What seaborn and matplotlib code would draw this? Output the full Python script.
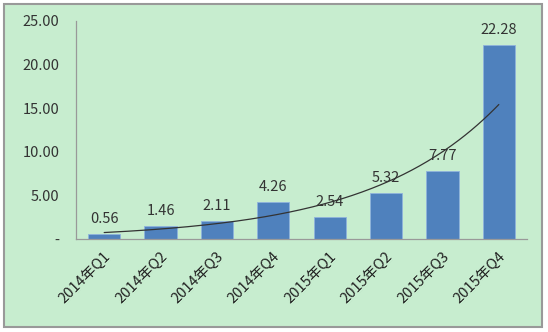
import numpy as np
import pandas as pd
import matplotlib
matplotlib.use("Agg")
import matplotlib.pyplot as plt
import seaborn as sns
from matplotlib.patches import Rectangle

categories = ["2014年Q1", "2014年Q2", "2014年Q3", "2014年Q4",
              "2015年Q1", "2015年Q2", "2015年Q3", "2015年Q4"]
values = [0.56, 1.46, 2.11, 4.26, 2.54, 5.32, 7.77, 22.28]
yticks = [0, 5, 10, 15, 20, 25]
ytick_labels = ["-", "5.00", "10.00", "15.00", "20.00", "25.00"]

sns.set_theme(style="white")
plt.rcParams['font.family'] = ['Noto Sans CJK SC', 'DejaVu Sans']

bg = "#C7EDCF"
fig = plt.figure(figsize=(5.48, 3.32), dpi=100)
fig.patch.set_facecolor("white")
fig.patches.append(Rectangle((4/548, 5/332), 538/548, 323/332, transform=fig.transFigure,
                             facecolor=bg, edgecolor="#999999", linewidth=1.5, zorder=-1))
ax = fig.add_axes([76/548, 1 - 239/332, 451/548, (239 - 21)/332])
ax.set_facecolor("none")

df = pd.DataFrame({"cat": categories, "val": values})
sns.barplot(data=df, x="cat", y="val", color="#4F81BD", width=0.57,
            edgecolor="#8FB3DC", linewidth=0.6, ax=ax, saturation=1)

# exponential trendline
x = np.arange(1, len(values) + 1)
b, a = np.polyfit(x, np.log(values), 1)
xs = np.linspace(1, len(values), 200)
ax.plot(xs - 1, np.exp(a + b * xs), color="#333333", linewidth=0.9, zorder=5)

for i, v in enumerate(values):
    ax.text(i, v + 0.9, f"{v:.2f}", ha="center", va="bottom", fontsize=10.5, color="#333333")

ax.set_xlim(-0.5, 7.5)
ax.set_ylim(0, 25)
ax.set_yticks(yticks)
ax.set_yticklabels(ytick_labels, fontsize=10.5, color="#333333")
ax.set_xticks(range(len(categories)))
ax.set_xticklabels(categories, rotation=45, ha="right", rotation_mode="anchor",
                   fontsize=10.5, color="#222222")
ax.tick_params(axis="y", length=0, pad=12)
ax.tick_params(axis="x", length=0, pad=8)
ax.set_xlabel("")
ax.set_ylabel("")
for s in ["top", "right"]:
    ax.spines[s].set_visible(False)
for s in ["left", "bottom"]:
    ax.spines[s].set_color("#999999")
    ax.spines[s].set_linewidth(0.9)

fig.savefig("out.png", dpi=100, facecolor="white")
